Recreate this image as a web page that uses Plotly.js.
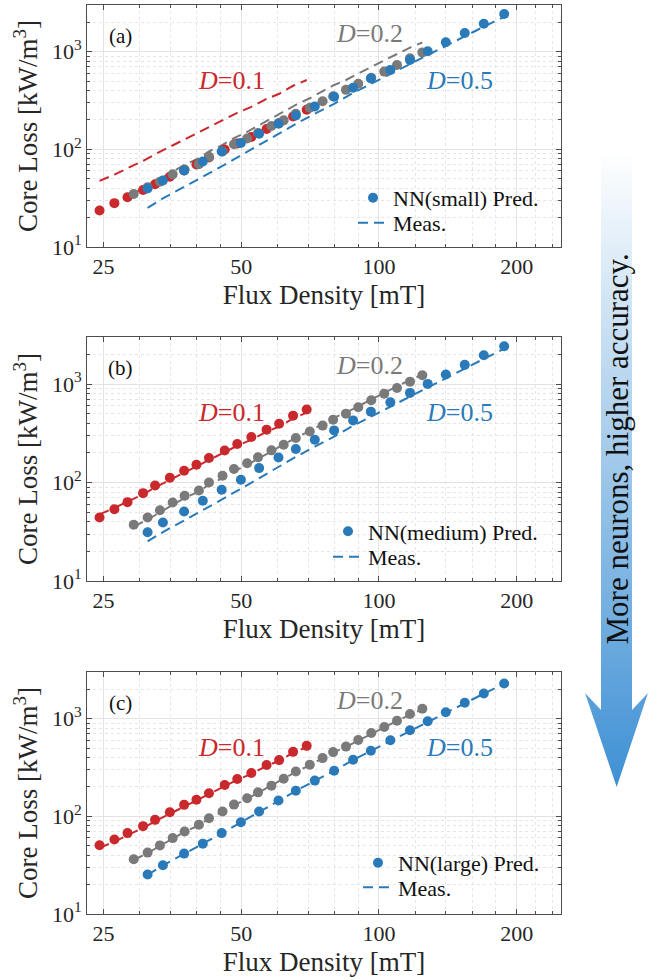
<!DOCTYPE html>
<html><head><meta charset="utf-8">
<script src="https://cdn.plot.ly/plotly-3.0.1.min.js"></script>
<style>html,body{margin:0;padding:0;background:#fff}#chart{width:658px;height:980px}</style>
</head><body><div id="chart"></div>
<script>
// ---------- data ----------
const B_D01 = [24.5, 26.4, 28.2, 30.5, 32.4, 34.9, 37.5, 39.9, 42.5, 46.0, 49.0, 52.6, 56.8, 60.5, 64.9, 69.5];
const B_D02 = [29.1, 31.2, 33.2, 35.4, 37.6, 40.4, 42.5, 45.5, 48.2, 51.5, 54.4, 58.2, 61.9, 65.8, 70.6, 75.3, 79.4, 84.7, 90.1, 96.2, 102.7, 109.5, 116.9, 124.4];
const B_D05 = [31.2, 33.7, 37.5, 41.2, 45.3, 49.9, 54.7, 60.3, 65.8, 72.4, 79.8, 87.8, 96.0, 105.9, 116.9, 127.8, 140.0, 154.0, 169.5, 187.8];

const meas_D01 = [47.5, 55, 64, 76, 89, 106, 126, 143, 167, 203, 236, 272, 328, 370, 447, 512];
const meas_D02 = [35.8, 42.0, 49.8, 59.0, 69.5, 81.0, 95.0, 111, 130, 151, 174, 204, 240, 285, 333, 390, 450, 512, 598, 705, 815, 945, 1100, 1240];
const meas_D05 = [25.2, 31.4, 41.2, 52.2, 67.0, 86.5, 111, 144, 182, 231, 292, 377, 466, 598, 756, 935, 1155, 1445, 1800, 2275];

const predSmall_D01 = [23.6, 28.1, 32.3, 38.3, 43.8, 52.4, 60.8, 70.0, 82.5, 99.6, 114.6, 133.7, 161.3, 185.8, 217, 254];
const predSmall_D02 = [34.9, 40.8, 46.6, 55.4, 62.2, 70.5, 83.7, 95, 112.8, 128.8, 146.9, 173, 197.8, 231.5, 266.8, 311, 349.7, 406, 468, 539, 624, 730, 853, 982];
const predSmall_D05 = [39.7, 47.9, 60.6, 74.9, 94.8, 116, 144.5, 183, 222, 275, 345, 427, 530, 650, 822, 1007, 1245, 1552, 1931, 2427];

const predMedium_D01 = [44.1, 53.6, 63.2, 78.0, 93.2, 111.7, 131.6, 151.4, 177.2, 211.6, 246, 290, 344, 395, 477, 550];
const predMedium_D02 = [37.2, 44.1, 52.3, 62.6, 73.3, 82.9, 100, 117, 137, 157, 180, 212, 242, 283, 330, 378, 434, 500, 580, 683, 798, 912, 1057, 1225];
const predMedium_D05 = [31.3, 39.2, 50.7, 65.2, 84.4, 106.5, 140, 179.5, 219, 272, 338, 427, 524, 651, 812, 1002, 1247, 1564, 1959, 2417];

const predLarge_D01 = [50.5, 58, 67.3, 79.3, 92, 110, 131, 148, 172, 209, 241, 277, 335, 376, 457, 526];
const predLarge_D02 = [36.3, 42.5, 50.4, 59.8, 70.0, 81.8, 95.6, 112, 131.8, 152.8, 175.8, 205.9, 242.7, 287.9, 336.7, 394.3, 454, 517, 605, 713, 821, 952, 1114, 1262];
const predLarge_D05 = [25.4, 31.6, 41.5, 52.5, 67.3, 87.1, 112, 145, 183, 232, 293, 379, 468, 601, 760, 939, 1160, 1453, 1810, 2291];

const panelLabels = ['(a)', '(b)', '(c)'];
const modelNames = ['NN(small) Pred.', 'NN(medium) Pred.', 'NN(large) Pred.'];
const dutyLabels = ['<i>D</i>=0.1', '<i>D</i>=0.2', '<i>D</i>=0.5'];
const measName = 'Meas.';
const xTitle = 'Flux Density [mT]';
const yTitle = 'Core Loss [kW/m<sup>3</sup>]';
const arrowText = 'More neurons, higher accuracy.';
const xTickVals = [25, 50, 100, 200];
const xTickText = ['25', '50', '100', '200'];
const xMinorVals = [30, 35, 40, 45, 60, 70, 80, 90, 120, 140, 160, 180, 220, 240];
const yTickVals = [10, 100, 1000];
const yTickText = ['10<sup>1</sup>', '10<sup>2</sup>', '10<sup>3</sup>'];
const yMinorVals = [20, 30, 40, 50, 60, 70, 80, 90, 200, 300, 400, 500, 600, 700, 800, 900, 2000, 3000];

// ---------- styling ----------
const FONT = 'Liberation Serif, DejaVu Serif, serif';
const RED = '#c9282c', GRAY = '#7a7a7a', BLUE = '#2a7ab9';
const colors = [RED, GRAY, BLUE];
const W = 658, H = 980, ML = 87, MR = 97, MT = 5, MB = 66;
const PW = W - ML - MR, PH = H - MT - MB;
const px = v => (v - ML) / PW;           // pixel -> paper x
const py = v => (H - MB - v) / PH;       // pixel -> paper y
const panelTops = [5, 337, 672], panelBottoms = [247, 581, 914];

const Bs = [B_D01, B_D02, B_D05];
const meas = [meas_D01, meas_D02, meas_D05];
const preds = [
  [predSmall_D01, predSmall_D02, predSmall_D05],
  [predMedium_D01, predMedium_D02, predMedium_D05],
  [predLarge_D01, predLarge_D02, predLarge_D05]
];

const traces = [];
const layout = {
  width: W, height: H,
  margin: {l: ML, r: MR, t: MT, b: MB},
  paper_bgcolor: '#fff', plot_bgcolor: '#fff',
  font: {family: FONT, color: '#262626', size: 22},
  showlegend: true,
  annotations: [], shapes: [], images: []
};

const legendPos = [
  {left: 353, r1: 198, r2: 223},
  {left: 328, r1: 531.5, r2: 557},
  {left: 358, r1: 863, r2: 887.5}
];

for (let p = 0; p < 3; p++) {
  const sx = p === 0 ? '' : String(p + 1);
  const xa = 'x' + sx, ya = 'y' + sx;
  const lgPred = 'legend' + (p === 0 ? '' : String(2 * p + 1));
  const lgMeas = 'legend' + String(2 * p + 2);
  for (let d = 0; d < 3; d++) {
    traces.push({
      type: 'scatter', mode: 'lines', x: Bs[d], y: meas[d], xaxis: xa, yaxis: ya,
      line: {color: colors[d], width: 2, dash: '10px,6px'},
      name: measName, showlegend: d === 2, legend: lgMeas, hoverinfo: 'skip'
    });
  }
  for (let d = 0; d < 3; d++) {
    traces.push({
      type: 'scatter', mode: 'markers', x: Bs[d], y: preds[p][d], xaxis: xa, yaxis: ya,
      marker: {color: colors[d], size: 10, line: {width: 0}},
      name: modelNames[p], showlegend: d === 2, legend: lgPred, hoverinfo: 'skip'
    });
  }
  const dom = [py(panelBottoms[p]), py(panelTops[p])];
  layout['xaxis' + sx] = {
    type: 'log', range: [Math.log10(23), Math.log10(250)], anchor: ya,
    domain: [0, 1], tickmode: 'array', tickvals: xTickVals, ticktext: xTickText,
    ticks: 'inside', ticklen: 5, tickcolor: '#4d4d4d', tickwidth: 1,
    showline: true, linecolor: '#4d4d4d', linewidth: 1, mirror: 'allticks',
    showgrid: true, gridcolor: '#e3e3e3', gridwidth: 1, zeroline: false,
    minor: {tickmode: 'array', tickvals: xMinorVals, ticks: 'inside', ticklen: 3, tickcolor: '#4d4d4d',
            showgrid: true, gridcolor: '#e6e6e6', griddash: 'dot', gridwidth: 1},
    tickfont: {family: FONT, size: 22, color: '#262626'},
    title: {text: xTitle, font: {family: FONT, size: 27, color: '#262626'}, standoff: 6},
    automargin: false, fixedrange: true
  };
  layout['yaxis' + sx] = {
    type: 'log', range: [1, Math.log10(3000)], anchor: xa, domain: dom,
    tickmode: 'array', tickvals: yTickVals, ticktext: yTickText,
    ticks: 'inside', ticklen: 5, tickcolor: '#4d4d4d', tickwidth: 1,
    showline: true, linecolor: '#4d4d4d', linewidth: 1, mirror: 'allticks',
    showgrid: true, gridcolor: '#e3e3e3', gridwidth: 1, zeroline: false,
    minor: {tickmode: 'array', tickvals: yMinorVals, ticks: 'inside', ticklen: 3, tickcolor: '#4d4d4d',
            showgrid: true, gridcolor: '#e6e6e6', griddash: 'dot', gridwidth: 1},
    tickfont: {family: FONT, size: 22, color: '#262626'},
    title: {text: yTitle, font: {family: FONT, size: 27, color: '#262626'}, standoff: 6},
    automargin: false, fixedrange: true
  };
  const lp = legendPos[p];
  const lgStyle = {font: {family: FONT, size: 22, color: '#111'}, bgcolor: 'rgba(0,0,0,0)',
                   borderwidth: 0, xanchor: 'left', yanchor: 'middle', itemclick: false};
  layout[lgPred] = Object.assign({}, lgStyle, {x: px(lp.left), y: py(lp.r1)});
  layout[lgMeas] = Object.assign({}, lgStyle, {x: px(lp.left), y: py(lp.r2)});

  const xd = xa + ' domain', yd = ya + ' domain';
  layout.annotations.push({xref: xd, yref: yd, x: 0.0717, y: 0.872, text: panelLabels[p], showarrow: false,
    font: {family: FONT, size: 21, color: '#111'}, xanchor: 'center', yanchor: 'middle'});
  const dPos = [[0.304, 0.69], [0.595, 0.884], [0.785, 0.69]];
  for (let d = 0; d < 3; d++) {
    layout.annotations.push({xref: xd, yref: yd, x: dPos[d][0], y: dPos[d][1], text: dutyLabels[d],
      showarrow: false, font: {family: FONT, size: 26, color: colors[d]}, xanchor: 'center', yanchor: 'middle'});
  }
}

// ---------- gradient arrow (decoration) ----------
const svg = '<svg xmlns="http://www.w3.org/2000/svg" width="70" height="645" viewBox="0 0 70 645">' +
  '<defs><linearGradient id="g" x1="0" y1="2" x2="0" y2="640" gradientUnits="userSpaceOnUse">' +
  '<stop offset="0" stop-color="#ffffff"/><stop offset="1" stop-color="#3e90d4"/></linearGradient></defs>' +
  '<polygon points="19,2 50,2 50,562 66,545 34.7,639 3,545 19,562" fill="url(#g)"/></svg>';
layout.images.push({
  source: 'data:image/svg+xml;base64,' + btoa(svg),
  xref: 'paper', yref: 'paper', x: px(582), y: py(148), sizex: 70 / PW, sizey: 645 / PH,
  xanchor: 'left', yanchor: 'top', sizing: 'stretch', layer: 'above'
});
layout.annotations.push({xref: 'paper', yref: 'paper', x: px(616.5), y: py(449), text: arrowText,
  textangle: -90, showarrow: false, font: {family: FONT, size: 31, color: '#111'},
  xanchor: 'center', yanchor: 'middle'});

Plotly.newPlot('chart', traces, layout, {staticPlot: true, displayModeBar: false});
</script></body></html>
